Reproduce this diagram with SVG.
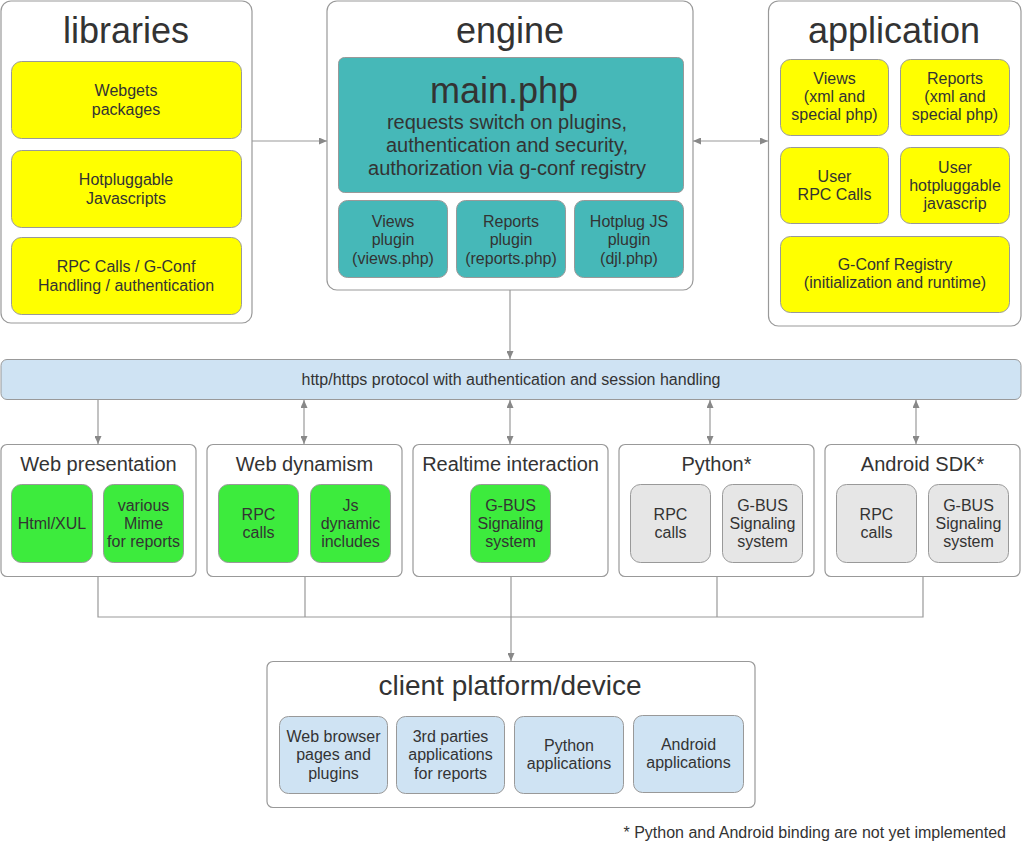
<svg xmlns="http://www.w3.org/2000/svg" width="1024" height="852" viewBox="0 0 1024 852">
<style>
text{font-family:"Liberation Sans",Arial,sans-serif;fill:#333;text-anchor:middle}
.outer{fill:#fff;stroke:#999;stroke-width:1.2}
.yel{fill:#ffff00;stroke:#999;stroke-width:1}
.teal{fill:#46b8b8;stroke:#999;stroke-width:1}
.grn{fill:#3deb3d;stroke:#999;stroke-width:1}
.gry{fill:#e6e6e6;stroke:#999;stroke-width:1}
.blu{fill:#cfe3f3;stroke:#999;stroke-width:1}
.t36{font-size:36px}
.t28{font-size:28px}
.t20{font-size:20px}
.t16{font-size:16px}
.conn line,.conn path{stroke:#999;stroke-width:1.2;fill:none}
.one{marker-end:url(#ah)}
.two{marker-start:url(#ah);marker-end:url(#ah)}
</style>
<defs>
<marker id="ah" viewBox="0 0 8 7" refX="8" refY="3.5" markerWidth="8" markerHeight="7" markerUnits="userSpaceOnUse" orient="auto-start-reverse">
<path d="M0,0 L8,3.5 L0,7 z" fill="#888"/>
</marker>
</defs>

<g id="libraries">
<rect class="outer" x="1" y="1" width="251" height="322" rx="10"/>
<text class="t36" x="126" y="43">libraries</text>
<rect class="yel" x="11.5" y="61.5" width="230" height="77" rx="10"/>
<text class="t16" x="126" y="96">Webgets</text>
<text class="t16" x="126" y="114.5">packages</text>
<rect class="yel" x="11.5" y="150.5" width="230" height="77" rx="10"/>
<text class="t16" x="126" y="185">Hotpluggable</text>
<text class="t16" x="126" y="203.5">Javascripts</text>
<rect class="yel" x="11.5" y="237.5" width="230" height="77" rx="10"/>
<text class="t16" x="126" y="272">RPC Calls / G-Conf</text>
<text class="t16" x="126" y="290.5">Handling / authentication</text>
</g>

<g id="engine">
<rect class="outer" x="327" y="1" width="366" height="289" rx="10"/>
<text class="t36" x="510" y="43">engine</text>
<rect class="teal" x="338.5" y="57.5" width="345" height="135" rx="6"/>
<text x="504" y="103" style="font-size:36px">main.php</text>
<text class="t20" x="507" y="128.5">requests switch on plugins,</text>
<text class="t20" x="507" y="151.5">authentication and security,</text>
<text class="t20" x="507" y="174.5">authorization via g-conf registry</text>
<rect class="teal" x="338.5" y="200.5" width="109" height="77" rx="9"/>
<text class="t16" x="393" y="227">Views</text>
<text class="t16" x="393" y="245.3">plugin</text>
<text class="t16" x="393" y="263.6">(views.php)</text>
<rect class="teal" x="456.5" y="200.5" width="109" height="77" rx="9"/>
<text class="t16" x="511" y="227">Reports</text>
<text class="t16" x="511" y="245.3">plugin</text>
<text class="t16" x="511" y="263.6">(reports.php)</text>
<rect class="teal" x="574.5" y="200.5" width="109" height="77" rx="9"/>
<text class="t16" x="629" y="227">Hotplug JS</text>
<text class="t16" x="629" y="245.3">plugin</text>
<text class="t16" x="629" y="263.6">(djl.php)</text>
</g>

<g id="application">
<rect class="outer" x="768.5" y="1" width="252.5" height="325" rx="10"/>
<text class="t36" x="894" y="43">application</text>
<rect class="yel" x="780.5" y="59.5" width="108" height="76" rx="10"/>
<text class="t16" x="834.5" y="83.5">Views</text>
<text class="t16" x="834.5" y="101.8">(xml and</text>
<text class="t16" x="834.5" y="120.1">special php)</text>
<rect class="yel" x="900.5" y="59.5" width="109" height="76" rx="10"/>
<text class="t16" x="955" y="83.5">Reports</text>
<text class="t16" x="955" y="101.8">(xml and</text>
<text class="t16" x="955" y="120.1">special php)</text>
<rect class="yel" x="780.5" y="147.5" width="108" height="76" rx="10"/>
<text class="t16" x="834.5" y="181.5">User</text>
<text class="t16" x="834.5" y="199.8">RPC Calls</text>
<rect class="yel" x="900.5" y="147.5" width="109" height="76" rx="10"/>
<text class="t16" x="955" y="172.7">User</text>
<text class="t16" x="955" y="191">hotpluggable</text>
<text class="t16" x="955" y="209.3">javascrip</text>
<rect class="yel" x="780.5" y="236.5" width="229" height="76" rx="10"/>
<text class="t16" x="895" y="270">G-Conf Registry</text>
<text class="t16" x="895" y="288.3">(initialization and runtime)</text>
</g>

<g id="http">
<rect class="blu" x="1" y="359.5" width="1020" height="40" rx="6"/>
<text class="t16" x="511" y="384.5">http/https protocol with authentication and session handling</text>
</g>

<g id="web-presentation">
<rect class="outer" x="1" y="444.5" width="195" height="132" rx="6"/>
<text class="t20" x="98.5" y="471">Web presentation</text>
<rect class="grn" x="11.5" y="484.5" width="81" height="78" rx="10"/>
<text class="t16" x="52" y="529">Html/XUL</text>
<rect class="grn" x="103.5" y="484.5" width="80" height="78" rx="10"/>
<text class="t16" x="143.5" y="510.5">various</text>
<text class="t16" x="143.5" y="528.8">Mime</text>
<text class="t16" x="143.5" y="547.1">for reports</text>
</g>

<g id="web-dynamism">
<rect class="outer" x="207" y="444.5" width="195" height="132" rx="6"/>
<text class="t20" x="304.5" y="471">Web dynamism</text>
<rect class="grn" x="218.5" y="484.5" width="80" height="78" rx="10"/>
<text class="t16" x="258.5" y="520">RPC</text>
<text class="t16" x="258.5" y="538.3">calls</text>
<rect class="grn" x="310.5" y="484.5" width="80" height="78" rx="10"/>
<text class="t16" x="350.5" y="510.5">Js</text>
<text class="t16" x="350.5" y="528.8">dynamic</text>
<text class="t16" x="350.5" y="547.1">includes</text>
</g>

<g id="realtime">
<rect class="outer" x="413" y="444.5" width="195" height="132" rx="6"/>
<text class="t20" x="510.5" y="471">Realtime interaction</text>
<rect class="grn" x="470.5" y="484.5" width="80" height="78" rx="10"/>
<text class="t16" x="510.5" y="510.5">G-BUS</text>
<text class="t16" x="510.5" y="528.8">Signaling</text>
<text class="t16" x="510.5" y="547.1">system</text>
</g>

<g id="python">
<rect class="outer" x="619" y="444.5" width="195" height="132" rx="6"/>
<text class="t20" x="716.5" y="471">Python*</text>
<rect class="gry" x="630.5" y="484.5" width="80" height="78" rx="10"/>
<text class="t16" x="670.5" y="520">RPC</text>
<text class="t16" x="670.5" y="538.3">calls</text>
<rect class="gry" x="722.5" y="484.5" width="80" height="78" rx="10"/>
<text class="t16" x="762.5" y="510.5">G-BUS</text>
<text class="t16" x="762.5" y="528.8">Signaling</text>
<text class="t16" x="762.5" y="547.1">system</text>
</g>

<g id="android">
<rect class="outer" x="825" y="444.5" width="195" height="132" rx="6"/>
<text class="t20" x="922.5" y="471">Android SDK*</text>
<rect class="gry" x="836.5" y="484.5" width="80" height="78" rx="10"/>
<text class="t16" x="876.5" y="520">RPC</text>
<text class="t16" x="876.5" y="538.3">calls</text>
<rect class="gry" x="928.5" y="484.5" width="80" height="78" rx="10"/>
<text class="t16" x="968.5" y="510.5">G-BUS</text>
<text class="t16" x="968.5" y="528.8">Signaling</text>
<text class="t16" x="968.5" y="547.1">system</text>
</g>

<g id="client">
<rect class="outer" x="267" y="661.5" width="488" height="146" rx="6"/>
<text class="t28" x="510" y="695">client platform/device</text>
<rect class="blu" x="279.5" y="716.5" width="108" height="77" rx="9"/>
<text class="t16" x="333.5" y="742">Web browser</text>
<text class="t16" x="333.5" y="760.3">pages and</text>
<text class="t16" x="333.5" y="778.6">plugins</text>
<rect class="blu" x="396.5" y="716.5" width="108" height="77" rx="9"/>
<text class="t16" x="450.5" y="742">3rd parties</text>
<text class="t16" x="450.5" y="760.3">applications</text>
<text class="t16" x="450.5" y="778.6">for reports</text>
<rect class="blu" x="514.5" y="716.5" width="109" height="77" rx="9"/>
<text class="t16" x="569" y="750.5">Python</text>
<text class="t16" x="569" y="768.8">applications</text>
<rect class="blu" x="633.5" y="715.5" width="110" height="77" rx="9"/>
<text class="t16" x="688.5" y="749.5">Android</text>
<text class="t16" x="688.5" y="767.8">applications</text>
</g>

<g id="footnote">
<text class="t16" x="1006" y="838" style="text-anchor:end">* Python and Android binding are not yet implemented</text>
</g>

<g class="conn" id="connectors">
<line class="one" x1="252" y1="141" x2="327" y2="141"/>
<line class="two" x1="693" y1="141" x2="768" y2="141"/>
<line class="one" x1="510" y1="290" x2="510" y2="359"/>
<line class="one" x1="98" y1="400" x2="98" y2="444"/>
<line class="two" x1="304" y1="400" x2="304" y2="444"/>
<line class="two" x1="510" y1="400" x2="510" y2="444"/>
<line class="two" x1="710" y1="400" x2="710" y2="444"/>
<line class="two" x1="916" y1="400" x2="916" y2="444"/>
<path d="M98,577 V617 H923 V577 M305,577 V617 M717,577 V617"/>
<line class="one" x1="511" y1="577" x2="511" y2="661"/>
</g>
</svg>
